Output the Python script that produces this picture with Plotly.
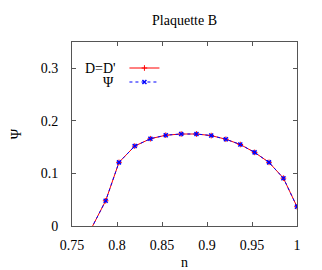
import plotly.graph_objects as go

n_vals = [0.7711, 0.7874, 0.8022, 0.8197, 0.8371, 0.8542, 0.8713, 0.8883,
          0.9047, 0.9210, 0.9370, 0.9529, 0.9689, 0.9849, 1.0000]
d_vals = [-0.006, 0.048, 0.121, 0.152, 0.166, 0.1727, 0.175, 0.175,
          0.172, 0.165, 0.155, 0.140, 0.121, 0.091, 0.0367]
psi_vals = [-0.006, 0.048, 0.121, 0.152, 0.166, 0.1727, 0.175, 0.175,
            0.172, 0.165, 0.155, 0.140, 0.121, 0.091, 0.0367]
x_ticks = [0.75, 0.8, 0.85, 0.9, 0.95, 1.0]
x_tick_text = ["0.75", "0.8", "0.85", "0.9", "0.95", "1"]
y_ticks = [0, 0.1, 0.2, 0.3]
y_tick_text = ["0", "0.1", "0.2", "0.3"]

FONT = "Liberation Serif"

fig = go.Figure()
fig.add_trace(go.Scatter(
    x=n_vals, y=d_vals, mode="lines+markers", name=" ", legend="legend",
    line=dict(color="#ff0000", width=1),
    marker=dict(symbol="cross-thin-open", size=4, color="#ff0000",
                line=dict(color="#ff0000", width=1)),
))
fig.add_trace(go.Scatter(
    x=n_vals, y=psi_vals, mode="lines+markers", name=" ", legend="legend2",
    line=dict(color="#0000ff", width=1, dash="dot"),
    marker=dict(symbol="x-thin-open", size=4, color="#0000ff",
                line=dict(color="#0000ff", width=1.5)),
))

axis_common = dict(
    showline=True, linecolor="#555555", linewidth=1, mirror="ticks",
    ticks="inside", ticklen=4, tickcolor="#555555", showgrid=False,
    zeroline=False, automargin=False,
    tickfont=dict(family=FONT, size=14, color="#000000"),
)

legend_common = dict(xanchor="left", yanchor="middle",
                     bgcolor="rgba(0,0,0,0)", borderwidth=0,
                     font=dict(family=FONT, size=8), itemwidth=30)

fig.update_layout(
    width=322, height=270,
    margin=dict(l=72, r=25, t=42, b=44, autoexpand=False),
    paper_bgcolor="white", plot_bgcolor="white",
    font=dict(family=FONT, size=14, color="#000000"),
    title=dict(text="Plaquette B", x=0.5, xref="paper", y=1 - 20 / 270,
               yref="container", yanchor="middle", xanchor="center",
               font=dict(family=FONT, size=14, color="#000000")),
    xaxis=dict(range=[0.75, 1.0], tickvals=x_ticks, ticktext=x_tick_text,
               ticklabelstandoff=6,
               title=dict(text="n", standoff=7,
                          font=dict(family=FONT, size=14)),
               **axis_common),
    yaxis=dict(range=[0, 0.35], tickvals=y_ticks, ticktext=y_tick_text,
               ticklabelstandoff=10,
               title=dict(text="Ψ", standoff=15,
                          font=dict(family=FONT, size=14)),
               **axis_common),
    legend=dict(x=0.233, y=(226 - 68) / 184, **legend_common),
    legend2=dict(x=0.233, y=(226 - 82) / 184, **legend_common),
    showlegend=True,
)

fig.add_annotation(text="D=D'", xref="paper", yref="paper", x=0.204,
                   y=(226 - 68) / 184,
                   xanchor="right", yanchor="middle", showarrow=False,
                   font=dict(family=FONT, size=14, color="#000000"))
fig.add_annotation(text="Ψ", xref="paper", yref="paper", x=0.196,
                   y=(226 - 82) / 184,
                   xanchor="right", yanchor="middle", showarrow=False,
                   font=dict(family=FONT, size=14, color="#000000"))

fig.write_html(
    "out.html",
    config={"displayModeBar": False},
    post_script="document.body.style.margin='0';document.body.style.padding='0';",
)
